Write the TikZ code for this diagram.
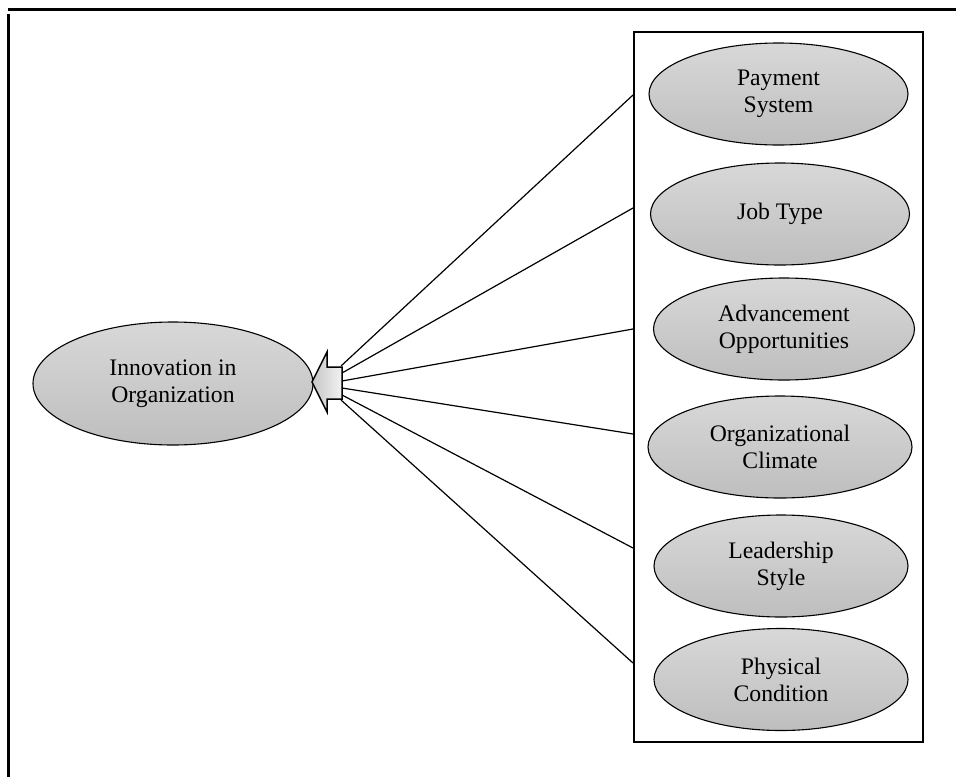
\documentclass[tikz,border=0pt]{standalone}
\usepackage{fontspec}
\setmainfont{Liberation Serif}
\usetikzlibrary{shapes.geometric}
\definecolor{eltop}{RGB}{216,216,216}
\definecolor{elbot}{RGB}{190,190,190}
\tikzset{
  oval/.style={ellipse, draw=black, line width=1.1pt, top color=eltop, bottom color=elbot,
    inner sep=0pt, align=center, font=\fontsize{23.7}{27}\selectfont},
  conn/.style={draw=black, line width=1.2pt},
}
\begin{document}
\begin{tikzpicture}[x=1pt,y=-1pt]
\useasboundingbox (0,0) rectangle (956,777);
% frame lines
\draw[line width=2.2pt] (8,9.5) -- (956,9.5);
\draw[line width=2.4pt] (8.5,14) -- (8.5,777);
% right box
\node[draw=black, line width=2.4pt, minimum width=289pt, minimum height=710pt, inner sep=0pt] (box) at (778.5,387) {};
% left ellipse
\node[oval, minimum width=280pt, minimum height=123pt] (inn) at (173,383.5) {Innovation in\\Organization};
% right ellipses
\node[oval, minimum width=259pt, minimum height=102pt] (pay) at (778.5,94) {Payment\\System};
\node[oval, minimum width=259pt, minimum height=102pt] (job) at (780,214) {Job Type};
\node[oval, minimum width=261pt, minimum height=102pt] (adv) at (784,329) {Advancement\\Opportunities};
\node[oval, minimum width=264pt, minimum height=102pt] (org) at (780,447) {Organizational\\Climate};
\node[oval, minimum width=254pt, minimum height=102pt] (lead) at (781,566) {Leadership\\Style};
\node[oval, minimum width=254pt, minimum height=102pt] (phys) at (781,679.5) {Physical\\Condition};
% arrow
\shade[left color=gray!45, right color=gray!10, draw=black, line width=1.5pt]
  (312,382) -- (327,352) -- (327,367) -- (342,367) -- (342,399) -- (327,399) -- (327,412) -- cycle;
\coordinate (s1) at (341,366);
\coordinate (s2) at (342,373);
\coordinate (s3) at (342,381);
\coordinate (s4) at (342,388);
\coordinate (s5) at (342,395);
\coordinate (s6) at (341,400);
\coordinate (e1) at (633,95);
\coordinate (e2) at (633,208);
\coordinate (e3) at (633,329);
\coordinate (e4) at (633,434);
\coordinate (e5) at (633,548);
\coordinate (e6) at (633,663);
\foreach \i in {1,...,6} \draw[conn] (s\i) -- (e\i);
\end{tikzpicture}
\end{document}
